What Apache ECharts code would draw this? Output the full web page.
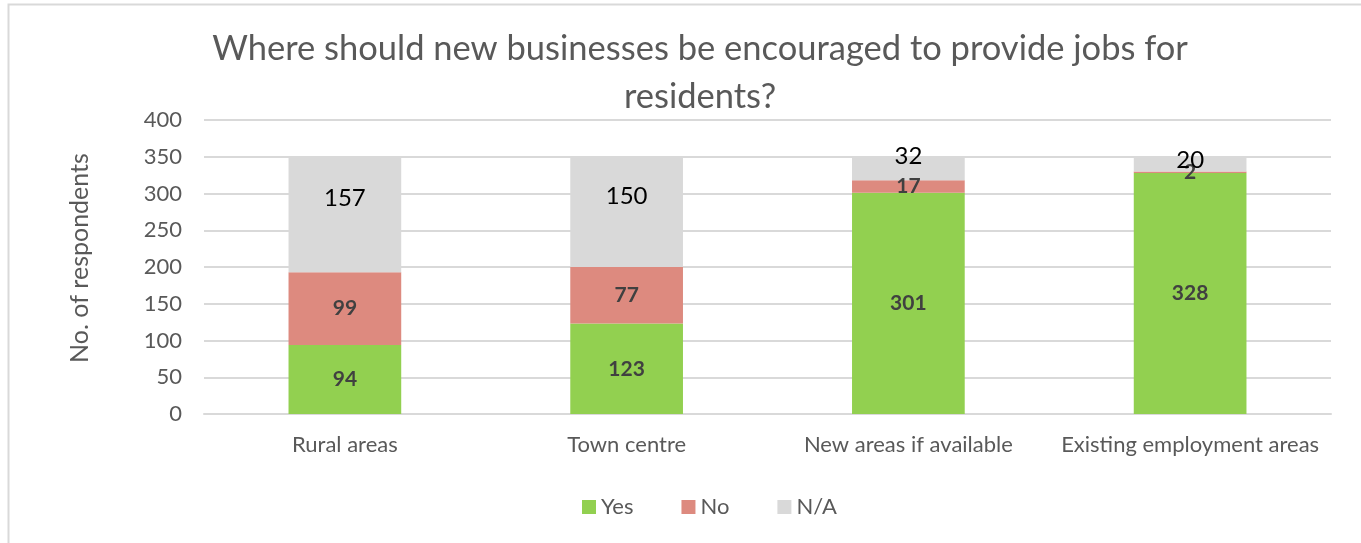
<!DOCTYPE html>
<html>
<head>
<meta charset="utf-8">
<script src="https://cdn.jsdelivr.net/npm/echarts@6/dist/echarts.min.js"></script>
<style>
  html, body { margin: 0; padding: 0; background: #fff; }
  #chart { width: 1361px; height: 543px; }
</style>
</head>
<body>
<div id="chart"></div>
<script>
// Survey answers: where new businesses should be encouraged
const categories = ['Rural areas', 'Town centre', 'New areas if available', 'Existing employment areas'];
const yesValues = [94, 123, 301, 328];
const noValues = [99, 77, 17, 2];
const naValues = [157, 150, 32, 20];
// vertical nudge of each N/A label from the top of its segment
const naLabelOffsets = [40, 38, -2, 2];
const yTicks = [0, 50, 100, 150, 200, 250, 300, 350, 400];

const FONT = 'Lato, "Open Sans", sans-serif';
const chart = echarts.init(document.getElementById('chart'));

const boldLabel = {
  show: true,
  position: 'inside',
  color: '#404040',
  fontWeight: 'bold',
  fontSize: 21,
  fontFamily: FONT
};

chart.setOption({
  animation: false,
  backgroundColor: '#fff',
  title: {
    text: 'Where should new businesses be encouraged to provide jobs for\nresidents?',
    left: 695,
    top: 20,
    textAlign: 'center',
    textStyle: {
      color: '#595959',
      fontSize: 34.5,
      fontWeight: 'normal',
      fontFamily: FONT,
      lineHeight: 48
    }
  },
  graphic: [{
    type: 'rect',
    shape: { x: 8.5, y: 4.5, width: 1400, height: 600 },
    style: { fill: 'none', stroke: '#d9d9d9', lineWidth: 2 },
    silent: true
  }],
  legend: {
    bottom: 25,
    left: 582,
    padding: 0,
    itemWidth: 14,
    itemHeight: 14,
    itemGap: 48,
    icon: 'rect',
    textStyle: { color: '#595959', fontSize: 22, fontFamily: FONT },
    data: ['Yes', 'No', 'N/A']
  },
  grid: { left: 204, right: 30, top: 120, bottom: 129 },
  xAxis: {
    type: 'category',
    data: categories,
    axisTick: { show: false },
    axisLine: { lineStyle: { color: '#d9d9d9', width: 2 } },
    axisLabel: { color: '#595959', fontSize: 22, fontFamily: FONT, margin: 20, interval: 0 }
  },
  yAxis: {
    type: 'value',
    min: yTicks[0],
    max: yTicks[yTicks.length - 1],
    interval: yTicks[1] - yTicks[0],
    name: 'No. of respondents',
    nameLocation: 'middle',
    nameGap: 112,
    nameTextStyle: { color: '#595959', fontSize: 25, fontFamily: FONT, padding: [0, 0, 0, 18] },
    axisLine: { show: false },
    axisTick: { show: false },
    axisLabel: { color: '#595959', fontSize: 22, fontFamily: FONT, margin: 22 },
    splitLine: { lineStyle: { color: '#d9d9d9', width: 2 } }
  },
  series: [
    {
      name: 'Yes',
      type: 'bar',
      stack: 'total',
      barWidth: '40%',
      itemStyle: { color: '#92d050' },
      label: boldLabel,
      data: yesValues
    },
    {
      name: 'No',
      type: 'bar',
      stack: 'total',
      itemStyle: { color: '#dd8a7f' },
      label: boldLabel,
      data: noValues
    },
    {
      name: 'N/A',
      type: 'bar',
      stack: 'total',
      itemStyle: { color: '#d9d9d9' },
      data: naValues.map((v, i) => ({
        value: v,
        label: {
          show: true,
          position: 'insideTop',
          offset: [0, naLabelOffsets[i] - 15],
          color: '#000',
          fontSize: 24,
          fontFamily: FONT
        }
      }))
    }
  ]
});
</script>
</body>
</html>
